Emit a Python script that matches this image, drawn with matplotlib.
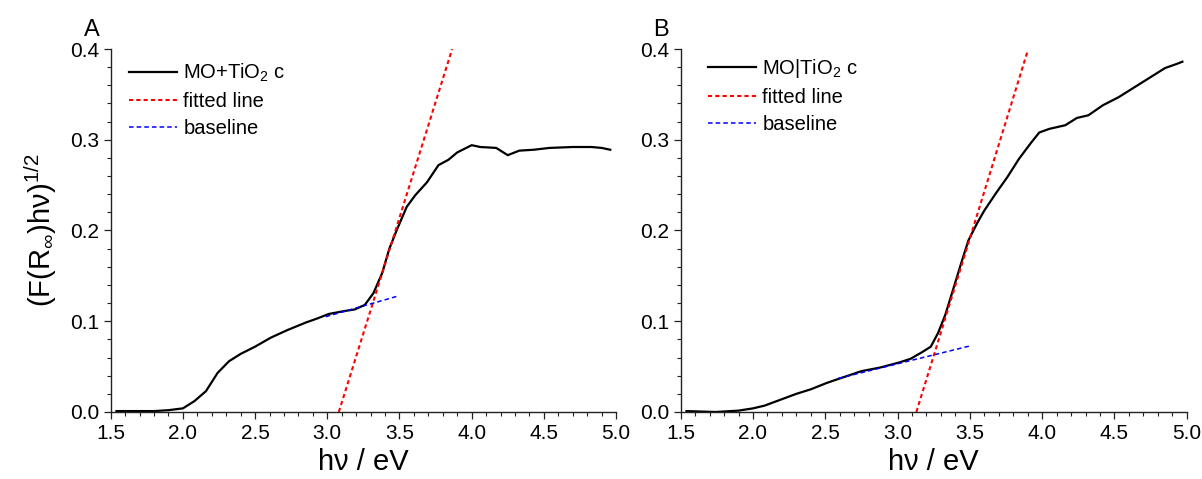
import numpy as np
import matplotlib
matplotlib.use("Agg")
import matplotlib.pyplot as plt
from matplotlib.ticker import MultipleLocator

plt.rcParams['font.family'] = ['Liberation Sans', 'DejaVu Sans']
plt.rcParams['mathtext.fontset'] = 'custom'
plt.rcParams['mathtext.rm'] = 'Liberation Sans'
plt.rcParams['mathtext.it'] = 'Liberation Sans'
plt.rcParams['mathtext.bf'] = 'Liberation Sans:bold'

# panel A: MO+TiO2 c
a_x = [1.54, 1.70, 1.80, 1.90, 2.00, 2.08, 2.16, 2.24, 2.32, 2.40, 2.50, 2.61,
       2.72, 2.85, 2.93, 3.01, 3.11, 3.19, 3.26, 3.32, 3.38, 3.43, 3.48, 3.55,
       3.61, 3.69, 3.77, 3.84, 3.90, 4.00, 4.06, 4.17, 4.25, 4.33, 4.43, 4.54,
       4.70, 4.83, 4.90, 4.96]
a_y = [0.001, 0.001, 0.001, 0.002, 0.004, 0.012, 0.023, 0.043, 0.056, 0.064,
       0.072, 0.082, 0.090, 0.0985, 0.103, 0.108, 0.111, 0.113, 0.118, 0.131,
       0.153, 0.180, 0.200, 0.226, 0.239, 0.253, 0.272, 0.278, 0.286, 0.294,
       0.292, 0.291, 0.283, 0.288, 0.289, 0.291, 0.292, 0.292, 0.291, 0.289]
a_fit_x = [3.08, 3.865]
a_fit_y = [0.0, 0.40]
a_base_x = [2.99, 3.495]
a_base_y = [0.105, 0.128]

# panel B: MO|TiO2 c
b_x = [1.54, 1.74, 1.90, 2.00, 2.08, 2.19, 2.30, 2.40, 2.51, 2.62, 2.75, 2.88,
       3.01, 3.09, 3.17, 3.23, 3.28, 3.33, 3.39, 3.44, 3.49, 3.55, 3.60, 3.68,
       3.76, 3.84, 3.92, 3.98, 4.05, 4.16, 4.24, 4.32, 4.42, 4.53, 4.66, 4.77,
       4.85, 4.93, 4.97]
b_y = [0.001, 0.000, 0.0015, 0.004, 0.007, 0.0135, 0.020, 0.025, 0.032, 0.038,
       0.045, 0.049, 0.0545, 0.0586, 0.066, 0.072, 0.087, 0.107, 0.138, 0.164,
       0.189, 0.208, 0.222, 0.241, 0.259, 0.279, 0.296, 0.308, 0.312, 0.316,
       0.324, 0.327, 0.338, 0.347, 0.360, 0.371, 0.379, 0.3835, 0.386]
b_fit_x = [3.13, 3.90]
b_fit_y = [0.0, 0.398]
b_base_x = [2.59, 3.506]
b_base_y = [0.037, 0.073]

fig = plt.figure(figsize=(12.02, 4.79), dpi=100)
ax_a = fig.add_axes([0.0921, 0.1399, 0.4204, 0.7578])
ax_b = fig.add_axes([0.5663, 0.1399, 0.4210, 0.7578])

panels = [
    (ax_a, a_x, a_y, a_fit_x, a_fit_y, a_base_x, a_base_y,
     r'MO+TiO$_2$ c', (0.036, 0.965)),
    (ax_b, b_x, b_y, b_fit_x, b_fit_y, b_base_x, b_base_y,
     r'MO|TiO$_2$ c', (0.054, 0.978)),
]

for ax, x, y, fx, fy, bx, by, lab, anchor in panels:
    ax.plot(x, y, color='black', lw=1.6, label=lab)
    ax.plot(fx, fy, color='red', lw=1.5, ls=(0, (2, 1.5)), label='fitted line')
    ax.plot(bx, by, color='blue', lw=1.1, ls=(0, (3, 2)), label='baseline')

    ax.set_xlim(1.5, 5.0)
    ax.set_ylim(0, 0.4)
    ax.xaxis.set_major_locator(MultipleLocator(0.5))
    ax.xaxis.set_minor_locator(MultipleLocator(0.1))
    ax.yaxis.set_major_locator(MultipleLocator(0.1))
    ax.yaxis.set_minor_locator(MultipleLocator(0.02))
    ax.xaxis.set_major_formatter(matplotlib.ticker.FormatStrFormatter('%.1f'))
    ax.yaxis.set_major_formatter(matplotlib.ticker.FormatStrFormatter('%.1f'))
    ax.spines['top'].set_visible(False)
    ax.spines['right'].set_visible(False)
    for s in ('left', 'bottom'):
        ax.spines[s].set_linewidth(1.0)
        ax.spines[s].set_color('#222222')
    ax.tick_params(which='major', direction='out', length=5, width=0.9,
                   labelsize=15, pad=3.5, color='#222222')
    ax.tick_params(which='minor', direction='out', length=3, width=0.8,
                   color='#222222')
    ax.set_xlabel('h\u03bd / eV', fontsize=21, labelpad=4)
    ax.patch.set_alpha(0)

    leg = ax.legend(loc='upper left', bbox_to_anchor=anchor, frameon=False,
                    fontsize=14.5, handlelength=2.4, handletextpad=0.3,
                    labelspacing=0.4, borderaxespad=0, borderpad=0)

ax_a.set_ylabel(r'$\mathrm{(F(R_{\infty})h\nu)^{1/2}}$', fontsize=21,
                labelpad=8)

fig.text(92 / 1202, 1 - 36 / 479, 'A', fontsize=17, ha='center', va='baseline')
fig.text(661 / 1202, 1 - 36 / 479, 'B', fontsize=17, ha='center', va='baseline')

fig.savefig('out.png', dpi=100)
